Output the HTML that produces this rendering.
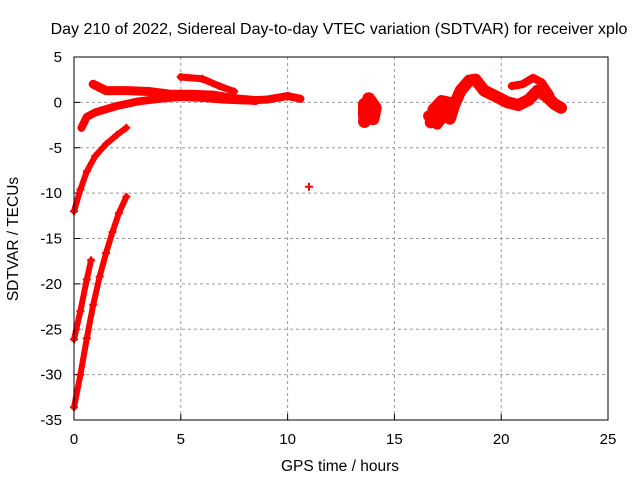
<!DOCTYPE html>
<html><head><meta charset="utf-8"><style>
body{margin:0;background:#fff}
svg{display:block;font-family:"Liberation Sans",sans-serif}
</style></head><body>
<svg id="chart" width="640" height="480">
<text x="339" y="34" text-anchor="middle" font-size="16">Day 210 of 2022, Sidereal Day-to-day VTEC variation (SDTVAR) for receiver xplo</text>
<text x="340" y="471" text-anchor="middle" font-size="15.5">GPS time / hours</text>
<text transform="translate(18,239) rotate(-90)" text-anchor="middle" font-size="15.5">SDTVAR / TECUs</text>
<g id="grid"></g>
<g id="ticks"></g>
<g id="series"></g>
<rect x="74" y="57" width="534" height="363" fill="none" stroke="#000" stroke-width="1"/>
</svg>
<script>
const xTicks=[0,5,10,15,20,25];
const yTicks=[5,0,-5,-10,-15,-20,-25,-30,-35];
const seriesA=[[0,-33.6],[0.3,-30],[0.6,-26],[0.9,-22.3],[1.2,-19.2],[1.5,-16.6],[1.8,-14.3],[2.1,-12.2],[2.45,-10.4]];
const seriesB=[[0,-26.1],[0.3,-23],[0.6,-19.5],[0.8,-17.4]];
const seriesC=[[0,-12],[0.3,-9.6],[0.6,-7.6],[1,-5.9],[1.5,-4.6],[2,-3.6],[2.45,-2.8]];
const seriesD=[[0.35,-2.8],[0.6,-1.6],[1,-1.1],[2,-0.4],[3,0.1],[4,0.4],[5,0.6],[6,0.5],[7,0.3],[8,0.2],[9,0.3],[10,0.7],[10.6,0.4]];
const seriesE=[[0.9,2],[1.5,1.3],[2.5,1.3],[3.5,1.2],[4.5,0.9],[5.5,0.9],[6.5,0.8],[7.5,0.4],[8.5,0.2]];
const seriesF=[[5,2.8],[6,2.6],[6.8,1.8],[7.5,1.2]];
const seriesG=[[11,-9.3]];
const seriesH=[[13.6,-0.2],[13.6,-1.5],[14,-1.8],[14.1,-0.6],[13.8,0.4],[13.6,-2.1]];
const seriesI=[[16.7,-2.2],[16.9,-1],[17.3,-0.6],[17.6,-1.8],[17.8,-0.3],[18.1,1.3],[18.5,2.4],[18.8,2.5],[19.2,1.3],[19.8,0.6],[20.3,0],[20.8,-0.3],[21.3,0.3],[21.7,1.3],[22.1,0.7],[22.5,-0.2],[22.8,-0.6]];
const seriesJ=[[20.5,1.8],[21,2],[21.5,2.7],[21.9,2.2],[22.3,0.8]];
const seriesK=[[16.6,-1.5],[17,-2.4],[17.4,-1.2],[17.6,0],[17.2,0.2],[16.8,-0.8]];
const allSeries=[[seriesA,6],[seriesB,6],[seriesC,6],[seriesD,8],[seriesE,9],[seriesF,7],[seriesG,2],[seriesH,13],[seriesI,12],[seriesJ,8],[seriesK,11]];
const X=h=>74+h*534/25;
const Y=v=>57+(5-v)*363/40;
const NS="http://www.w3.org/2000/svg";
const grid=document.getElementById('grid'),ticks=document.getElementById('ticks'),ser=document.getElementById('series');
function mk(tag,attrs,parent){const e=document.createElementNS(NS,tag);for(const k in attrs)e.setAttribute(k,attrs[k]);parent.appendChild(e);return e;}
xTicks.forEach(t=>{
 if(t>0&&t<25){const g=mk('line',{x1:X(t),x2:X(t),y1:57,y2:420,stroke:'#999','stroke-dasharray':'3,3'},grid);
 
 }
 const tk=mk('line',{x1:X(t),x2:X(t),y1:420,y2:414,stroke:'#000'},ticks);
 
 
 const tx=mk('text',{x:X(t),y:444,'text-anchor':'middle','font-size':15},ticks);tx.textContent=t;
 
 
});
yTicks.forEach(t=>{
 if(t<5&&t>-35){const g=mk('line',{x1:74,x2:608,y1:Y(t),y2:Y(t),stroke:'#999','stroke-dasharray':'3,3'},grid);
 
 }
 const tk=mk('line',{x1:74,x2:80,y1:Y(t),y2:Y(t),stroke:'#000'},ticks);
 
 
 const tx=mk('text',{x:62,y:Y(t)+5,'text-anchor':'end','font-size':15},ticks);tx.textContent=t;
 
 
});
allSeries.forEach(([s,w])=>{
 const pts=s.map(p=>X(p[0])+','+Y(p[1])).join(' ');
 const pl=mk('polyline',{points:pts,fill:'none',stroke:'#f00','stroke-width':w,'stroke-linejoin':'round','stroke-linecap':'round'},ser);
 
 
 s.forEach(p=>{const m=mk('path',{d:`M${X(p[0])-4},${Y(p[1])}h8M${X(p[0])},${Y(p[1])-4}v8`,stroke:'#f00','stroke-width':2},ser);
 
 });
});
</script>
</body></html>
